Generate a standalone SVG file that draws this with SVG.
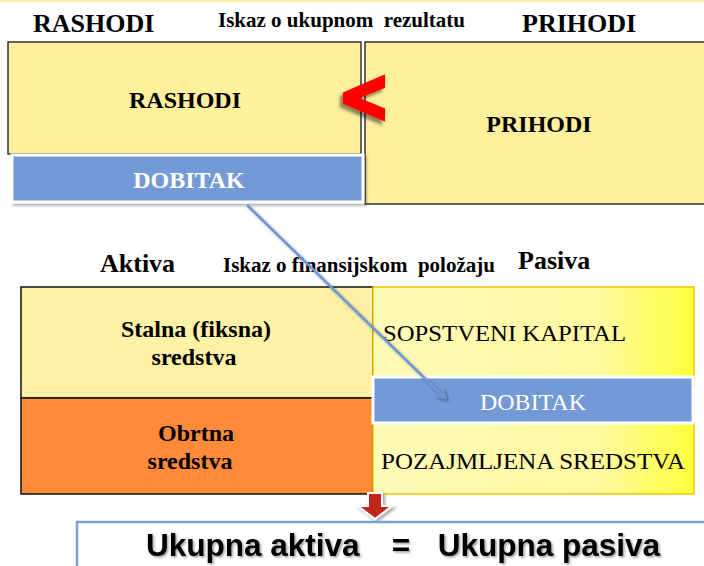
<svg xmlns="http://www.w3.org/2000/svg" width="704" height="566" viewBox="0 0 704 566">
<style>
.hdr{font-family:"Liberation Serif","Times New Roman",serif;font-weight:bold;fill:#000}
.lbl{font-family:"Liberation Serif","Times New Roman",serif;font-weight:bold;fill:#000;font-size:24px}
.reg{font-family:"Liberation Serif","Times New Roman",serif;fill:#000;font-size:24px}
.yel{fill:#FEF09C;stroke:#333;stroke-width:1.5}
.lyel{fill:#FDF1A6;stroke:#111;stroke-width:1.5}
.org{fill:#FF8A38;stroke:#111;stroke-width:1.5}
.pas{fill:url(#pg);stroke:#F5C400;stroke-width:1.5}
.blue{fill:#7399D7;stroke:#fff;stroke-width:3}
.conn{stroke:#6E95D4;stroke-width:2.5;fill:none}
</style>
<defs>
<linearGradient id="pg" x1="0" y1="0" x2="1" y2="0">
<stop offset="0" stop-color="#FFFBB8"/>
<stop offset="0.7" stop-color="#FFF9A0"/>
<stop offset="1" stop-color="#FFFF3C"/>
</linearGradient>
<filter id="sh" x="-10%" y="-20%" width="130%" height="150%">
<feDropShadow dx="2" dy="2" stdDeviation="1.5" flood-color="#000" flood-opacity="0.35"/>
</filter>
<filter id="tsh" x="-10%" y="-30%" width="120%" height="160%">
<feDropShadow dx="1.5" dy="1.5" stdDeviation="1" flood-color="#000" flood-opacity="0.4"/>
</filter>
<filter id="lsh" x="-30%" y="-30%" width="160%" height="160%">
<feDropShadow dx="-3" dy="3" stdDeviation="1.5" flood-color="#000" flood-opacity="0.45"/>
</filter>
<marker id="ah" viewBox="0 0 12 12" refX="10" refY="6" markerWidth="12" markerHeight="12" markerUnits="userSpaceOnUse" orient="auto">
<path d="M1,1 L10,6 L1,11" fill="none" stroke="#6E95D4" stroke-width="2.5"/>
</marker>
</defs>
<rect x="0" y="0" width="704" height="2" fill="#FCEFA4"/>

<g id="header-top">
<text class="hdr" x="33" y="32" font-size="26">RASHODI</text>
<text class="hdr" x="218" y="27" font-size="21" xml:space="preserve">Iskaz o ukupnom  rezultatu</text>
<text class="hdr" x="522" y="32" font-size="26">PRIHODI</text>
</g>

<g id="rashodi">
<rect class="yel" x="8" y="42" width="353" height="112"/>
<text class="lbl" x="185" y="108" text-anchor="middle">RASHODI</text>
</g>
<g id="prihodi">
<rect class="yel" x="365" y="42" width="345" height="162"/>
<text class="lbl" x="539" y="132" text-anchor="middle">PRIHODI</text>
</g>
<g id="dobitak-top">
<rect class="blue" x="12" y="155" width="351" height="47" filter="url(#sh)"/>
<text class="lbl" x="189" y="188" text-anchor="middle" style="fill:#fff">DOBITAK</text>
</g>
<g id="less-than">
<text x="338" y="122" transform="matrix(1,0,0,1.18,0,-23)" font-family="DejaVu Sans, sans-serif" font-weight="bold" font-size="62" fill="#FF0000" stroke="#FF0000" stroke-width="3.5" filter="url(#lsh)">&lt;</text>
</g>

<g id="header-bottom">
<text class="hdr" x="100" y="272" font-size="26">Aktiva</text>
<text class="hdr" x="223" y="272" font-size="21" xml:space="preserve">Iskaz o finansijskom  položaju</text>
<text class="hdr" x="518" y="269" font-size="26">Pasiva</text>
</g>

<g id="stalna">
<rect class="lyel" x="21" y="287" width="352" height="111"/>
<text class="lbl" x="196" y="337" text-anchor="middle">Stalna (fiksna)</text>
<text class="lbl" x="194" y="365" text-anchor="middle">sredstva</text>
</g>
<g id="obrtna">
<rect class="org" x="21" y="398" width="352" height="96"/>
<text class="lbl" x="196" y="441" text-anchor="middle">Obrtna</text>
<text class="lbl" x="190" y="469" text-anchor="middle">sredstva</text>
</g>
<g id="sopstveni">
<rect class="pas" x="373" y="287" width="321" height="98"/>
<text class="reg" x="383" y="341" textLength="243" lengthAdjust="spacingAndGlyphs">SOPSTVENI KAPITAL</text>
</g>
<g id="pozajmljena">
<rect class="pas" x="373" y="423" width="321" height="71"/>
<text class="reg" x="381" y="469" textLength="304" lengthAdjust="spacingAndGlyphs">POZAJMLJENA SREDSTVA</text>
</g>
<g id="dobitak-bottom">
<rect class="blue" x="373" y="377" width="320" height="46"/>
<text class="reg" x="533" y="410" text-anchor="middle" style="fill:#fff">DOBITAK</text>
</g>

<g id="connectors">
<line class="conn" x1="247" y1="205" x2="445" y2="398" marker-end="url(#ah)" filter="url(#sh)"/>
<path d="M368,493 H382 V506 H392 L375,519 L358,506 H368 Z" fill="#C0281C" stroke="#fff" stroke-width="2" filter="url(#sh)"/>
</g>

<g id="ukupno">
<rect x="77" y="522" width="640" height="60" fill="#fff" stroke="#7BA0DA" stroke-width="2.5"/>
<g font-family="Liberation Sans, Arial, sans-serif" font-weight="bold" font-size="31.5" fill="#000" filter="url(#tsh)">
<text x="146" y="556">Ukupna aktiva</text>
<text x="401" y="556" text-anchor="middle">=</text>
<text x="660" y="556" text-anchor="end">Ukupna pasiva</text>
</g>
</g>
</svg>
